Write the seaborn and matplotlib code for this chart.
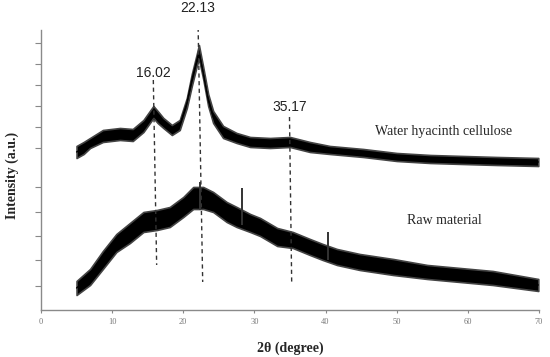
import numpy as np
import pandas as pd
import matplotlib
matplotlib.use("Agg")
import matplotlib.pyplot as plt
import seaborn as sns

# XRD patterns (2theta in degree, intensity in a.u.)
cell_2theta = [5.0, 6.0, 6.9, 8.7, 11.1, 12.9, 14.4, 15.3, 15.8, 16.4, 17.2, 18.4,
               19.5, 20.5, 21.2, 21.9, 22.2, 22.8, 23.5, 24.2, 25.6, 27.5, 29.4,
               32.2, 35.0, 37.8, 40.6, 45.3, 50.0, 54.7, 59.3, 64.1, 69.9]
cell_int = [158, 162, 167, 174, 176, 175, 184, 193, 198, 193, 187, 180,
            185, 207, 230, 250, 258, 237, 210, 193, 178, 172, 168,
            167, 168, 163, 160, 157, 153, 151, 150, 149, 148]
cell_noise = [6, 6, 5, 6, 6, 6, 6, 6, 6, 6, 5, 5,
              5, 5, 6, 6, 7, 6, 6, 6, 6, 5, 5,
              5, 5, 5, 4, 4, 4, 4, 4, 4, 4]

raw_2theta = [5.0, 6.9, 8.7, 10.6, 12.5, 14.4, 16.3, 18.1, 20.0, 21.4, 22.8, 24.2,
              26.1, 27.5, 29.4, 30.8, 33.2, 35.4, 37.8, 39.6, 41.6,
              44.8, 49.5, 54.3, 58.9, 63.5, 69.9]
raw_int = [22, 33, 50, 67, 77, 88, 90, 93, 103, 112, 112, 108,
           98, 93, 87, 83, 73, 70, 63, 58, 53,
           48, 43, 38, 35, 32, 25]
raw_noise = [7, 8, 9, 9, 10, 10, 10, 10, 10, 11, 11, 10,
             10, 10, 9, 9, 9, 8, 8, 8, 8,
             8, 8, 7, 7, 7, 6]

# narrow spikes on the raw pattern: position, lowest and highest intensity
raw_spike_x = [22.3, 28.3, 40.3]
raw_spike_lo = [100, 85, 50]
raw_spike_hi = [128, 122, 78]

# peak markers: label, x at top / bottom of dashed line, y at top / bottom
peak_labels = ["16.02", "22.13", "35.17"]
peak_x_top = [15.79, 22.07, 34.93]
peak_x_bot = [16.26, 22.73, 35.24]
peak_y_top = [230, 290, 193]
peak_y_bot = [45, 28, 27]
peak_label_y = [237, 302, 203]

ytick_pos = [24, 50, 74, 98, 123, 162, 183, 204, 225, 246, 267]

sns.set_style("ticks")
plt.rcParams["font.family"] = ["Liberation Serif", "DejaVu Serif"]

fig = plt.figure(figsize=(5.5, 3.57), dpi=100)
ax = fig.add_axes([0.0745, 0.1317, 0.9055, 0.7843])

cell = pd.DataFrame({"x": cell_2theta, "y": cell_int, "n": cell_noise})
raw = pd.DataFrame({"x": raw_2theta, "y": raw_int, "n": raw_noise})

for d in (cell, raw):
    ax.fill_between(d["x"], d["y"] - d["n"], d["y"] + d["n"],
                    facecolor="black", edgecolor="#444444", lw=1.2)
    sns.lineplot(data=d, x="x", y="y", ax=ax, color="black", lw=1.0)

ax.vlines(raw_spike_x, raw_spike_lo, raw_spike_hi, color="#333333", lw=1.4)

for lab, xt, xb, yt, yb, ly in zip(peak_labels, peak_x_top, peak_x_bot,
                                   peak_y_top, peak_y_bot, peak_label_y):
    ax.plot([xt, xb], [yt, yb], color="#333333", lw=1.0, ls=(0, (3, 2.5)))
    ax.text(xt, ly, lab, ha="center", va="center", fontsize=10,
            family="Liberation Sans", color="#222222", clip_on=False)

ax.text(46.95, 178, "Water hyacinth cellulose", ha="left", va="center", fontsize=10)
ax.text(51.45, 89, "Raw material", ha="left", va="center", fontsize=10)

ax.set_xlim(0, 70)
ax.set_ylim(0, 280)
ax.set_xticks(range(0, 71, 10))
ax.set_yticks(ytick_pos)
ax.set_yticklabels([])
ax.tick_params(axis="x", labelsize=6, colors="#888888", length=2, width=0.8, pad=4)
ax.tick_params(axis="y", length=4, width=0.8, colors="#888888")
for lbl in ax.get_xticklabels():
    lbl.set_color("#777777")

sns.despine(ax=ax)
for s in ("left", "bottom"):
    ax.spines[s].set_color("#8a8a8a")
    ax.spines[s].set_linewidth(1.0)

ax.set_xlabel("2θ (degree)", fontsize=10, fontweight="bold", labelpad=11)
ax.set_ylabel("Intensity (a.u.)", fontsize=10, fontweight="bold", va="center")
ax.yaxis.set_label_coords(-0.058, 0.48)

fig.savefig("out.png", dpi=100)
